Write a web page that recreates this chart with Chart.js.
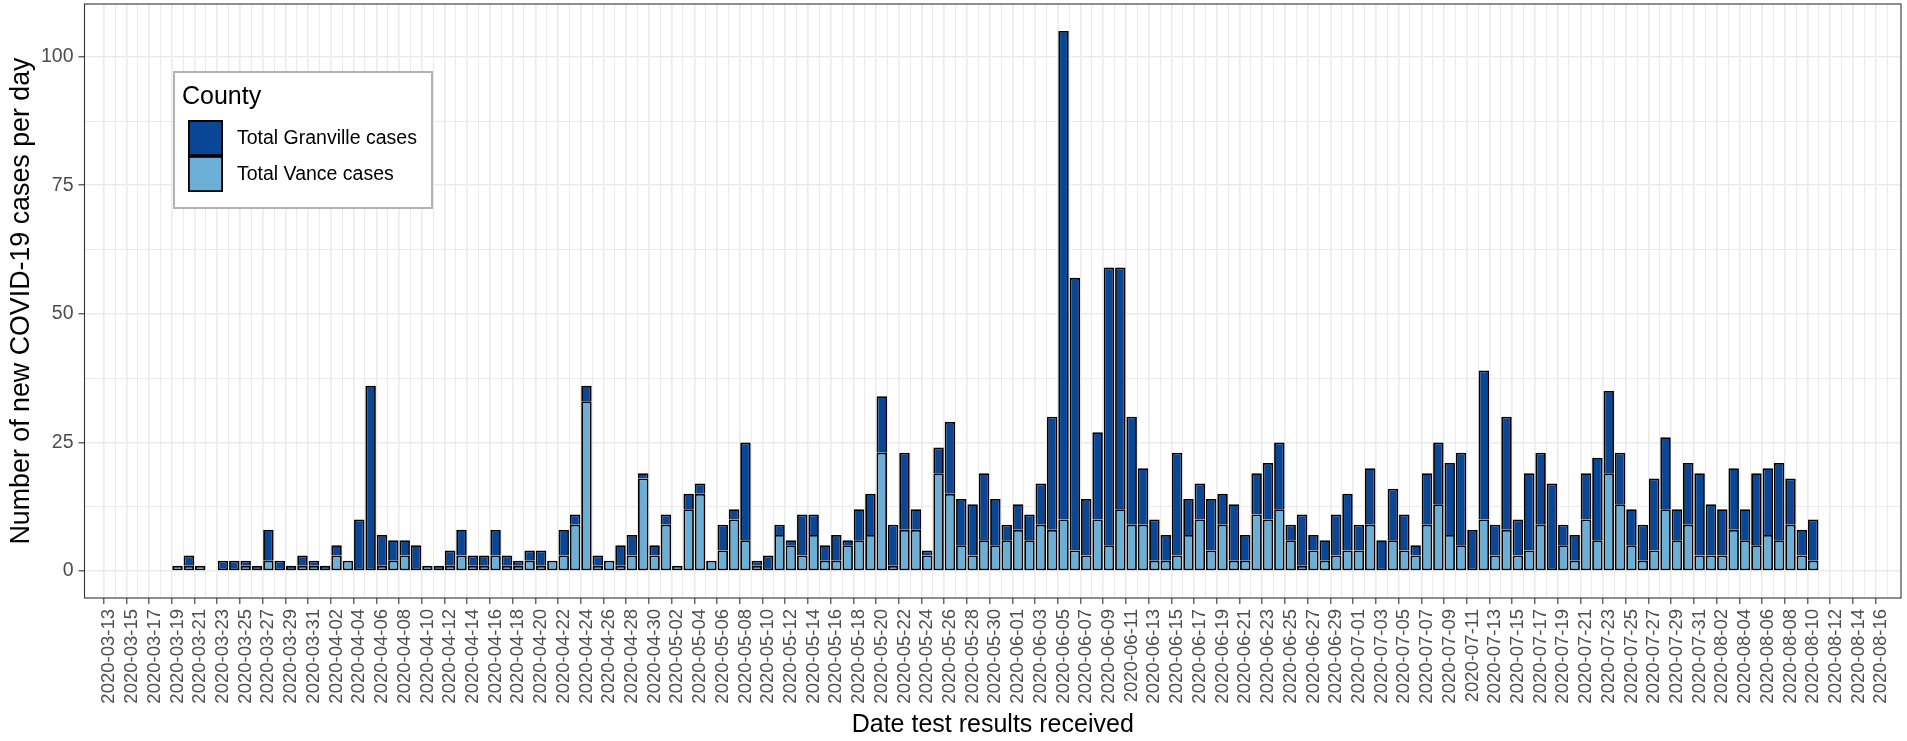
<!DOCTYPE html>
<html>
<head>
<meta charset="utf-8">
<script src="https://cdn.jsdelivr.net/npm/chart.js@4.4.1/dist/chart.umd.min.js"></script>
<style>
  body { margin: 0; background: #fff; }
  canvas { display: block; }
</style>
</head>
<body>
<canvas id="casesChart" width="1907" height="741"></canvas>
<script>
    // x axis runs from axisFirst to axisLast, one label every 2 days
    const axisFirst = '2020-03-13';
    const axisLast = '2020-08-16';
    // first day with a bar; the arrays below are one entry per day from here
    const firstDate = '2020-03-19';
    const yTicks = [0, 25, 50, 75, 100];

    const vance = [
        1, 1, 1, 0, 0, 0, 1, 0, 2, 0,
        0, 1, 1, 0, 3, 2, 0, 0, 1, 2,
        3, 0, 1, 0, 1, 3, 1, 1, 3, 1,
        1, 2, 1, 2, 3, 9, 33, 1, 2, 1,
        3, 18, 3, 9, 1, 12, 15, 2, 4, 10,
        6, 1, 0, 7, 5, 3, 7, 2, 2, 5,
        6, 7, 23, 1, 8, 8, 3, 19, 15, 5,
        3, 6, 5, 6, 8, 6, 9, 8, 10, 4,
        3, 10, 5, 12, 9, 9, 2, 2, 3, 7,
        10, 4, 9, 2, 2, 11, 10, 12, 6, 1,
        4, 2, 3, 4, 4, 9, 0, 6, 4, 3,
        9, 13, 7, 5, 0, 10, 3, 8, 3, 4,
        9, 0, 5, 2, 10, 6, 19, 13, 5, 2,
        4, 12, 6, 9, 3, 3, 3, 8, 6, 5,
        7, 6, 9, 3, 2
    ];
    const granville = [
        0, 2, 0, 0, 2, 2, 1, 1, 6, 2,
        1, 2, 1, 1, 2, 0, 10, 36, 6, 4,
        3, 5, 0, 1, 3, 5, 2, 2, 5, 2,
        1, 2, 3, 0, 5, 2, 3, 2, 0, 4,
        4, 1, 2, 2, 0, 3, 2, 0, 5, 2,
        19, 1, 3, 2, 1, 8, 4, 3, 5, 1,
        6, 8, 11, 8, 15, 4, 1, 5, 14, 9,
        10, 13, 9, 3, 5, 5, 8, 22, 95, 53,
        11, 17, 54, 47, 21, 11, 8, 5, 20, 7,
        7, 10, 6, 11, 5, 8, 11, 13, 3, 10,
        3, 4, 8, 11, 5, 11, 6, 10, 7, 2,
        10, 12, 14, 18, 8, 29, 6, 22, 7, 15,
        14, 17, 4, 5, 9, 16, 16, 10, 7, 7,
        14, 14, 6, 12, 16, 10, 9, 12, 6, 14,
        13, 15, 9, 5, 8
    ];

    const DAY = 86400000;
    const t0 = Date.parse(axisFirst);
    const dayNum = s => Math.round((Date.parse(s) - t0) / DAY);
    const dayLabel = d => new Date(t0 + d * DAY).toISOString().slice(0, 10);
    const start = dayNum(firstDate);
    const lastTick = dayNum(axisLast);

    const FONT = '"Liberation Sans", Arial, Helvetica, sans-serif';

    // ggplot style legend inside the panel
    const insideLegend = {
        id: 'insideLegend',
        afterDraw(chart) {
            const { ctx, chartArea } = chart;
            const x = chartArea.left + 89.5, y = chartArea.top + 68, w = 258, h = 136;
            ctx.save();
            ctx.fillStyle = '#fff';
            ctx.fillRect(x, y, w, h);
            ctx.strokeStyle = '#b3b3b3';
            ctx.lineWidth = 2;
            ctx.strokeRect(x, y, w, h);
            ctx.fillStyle = '#000';
            ctx.textBaseline = 'middle';
            ctx.font = '25px ' + FONT;
            ctx.fillText('County', x + 8, y + 25);
            const items = chart.data.datasets.slice().reverse();
            items.forEach((ds, i) => {
                const ky = y + 48 + i * 36;
                ctx.fillStyle = ds.backgroundColor;
                ctx.fillRect(x + 14, ky, 35, 36);
                ctx.strokeStyle = '#000';
                ctx.lineWidth = 1.8;
                ctx.strokeRect(x + 14.9, ky + 0.9, 33.2, 34.2);
                ctx.fillStyle = '#000';
                ctx.font = '19.5px ' + FONT;
                ctx.fillText(ds.label, x + 63, ky + 19);
            });
            ctx.restore();
        }
    };

    // dark panel border drawn over everything
    const panelBorder = {
        id: 'panelBorder',
        afterDraw(chart) {
            const { ctx, chartArea: a } = chart;
            ctx.save();
            ctx.strokeStyle = '#333333';
            ctx.lineWidth = 1.1;
            ctx.strokeRect(a.left, a.top, a.right - a.left, a.bottom - a.top);
            ctx.restore();
        }
    };

    const noPad = s => {
        s.paddingTop = 0; s.paddingBottom = 0;
        s.paddingLeft = 0; s.paddingRight = 0;
    };

    new Chart(document.getElementById('casesChart'), {
        type: 'bar',
        data: {
            datasets: [{
                label: 'Total Vance cases',
                data: vance.map((v, i) => ({ x: start + i, y: v })),
                backgroundColor: '#6BAED6',
                borderColor: '#000',
                borderWidth: 1.8,
                borderSkipped: false
            }, {
                label: 'Total Granville cases',
                data: granville.map((v, i) => ({ x: start + i, y: v })),
                backgroundColor: '#0A4696',
                borderColor: '#000',
                borderWidth: 1.8,
                borderSkipped: ctx => vance[ctx.dataIndex] > 0 ? 'bottom' : false
            }]
        },
        options: {
            responsive: false,
            animation: false,
            devicePixelRatio: 1,
            layout: { padding: { top: 4, right: 6, left: 0, bottom: 0 } },
            datasets: { bar: { barPercentage: 0.92, categoryPercentage: 1 } },
            plugins: {
                legend: { display: false },
                tooltip: { enabled: false }
            },
            scales: {
                x: {
                    type: 'linear',
                    stacked: true,
                    min: -1.68,
                    max: lastTick + 1.22,
                    afterFit: s => { s.height = 143; noPad(s); },
                    afterBuildTicks: s => {
                        const t = [];
                        for (let d = 0; d <= lastTick; d++) t.push({ value: d });
                        s.ticks = t;
                    },
                    border: { display: false },
                    grid: {
                        color: '#EBEBEB',
                        lineWidth: c => c.tick && c.tick.value % 2 === 0 ? 1.6 : 1.0,
                        tickColor: c => c.tick && c.tick.value % 2 === 0 ? '#333333' : 'rgba(0,0,0,0)',
                        tickLength: 6,
                        tickWidth: 1.1
                    },
                    ticks: {
                        autoSkip: false,
                        minRotation: 90,
                        maxRotation: 90,
                        padding: 5,
                        color: '#4D4D4D',
                        font: { family: FONT, size: 18.5 },
                        callback: v => v % 2 === 0 ? dayLabel(v) : ''
                    },
                    title: {
                        display: true,
                        text: 'Date test results received',
                        color: '#000',
                        font: { family: FONT, size: 25 },
                        padding: { top: 1, bottom: 1 }
                    }
                },
                y: {
                    stacked: true,
                    min: -5.25,
                    max: 110.25,
                    afterFit: s => { s.width = 84.5; noPad(s); },
                    afterBuildTicks: s => {
                        const t = [];
                        yTicks.forEach((v, i) => {
                            t.push({ value: v });
                            if (i < yTicks.length - 1) t.push({ value: v + 12.5 });
                        });
                        s.ticks = t;
                    },
                    border: { display: false },
                    grid: {
                        color: '#EBEBEB',
                        lineWidth: c => c.tick && yTicks.includes(c.tick.value) ? 1.6 : 1.0,
                        tickColor: c => c.tick && yTicks.includes(c.tick.value) ? '#333333' : 'rgba(0,0,0,0)',
                        tickLength: 6,
                        tickWidth: 1.1
                    },
                    ticks: {
                        padding: 5,
                        color: '#4D4D4D',
                        font: { family: FONT, size: 19.5 },
                        callback: v => yTicks.includes(v) ? v : ''
                    },
                    title: {
                        display: true,
                        text: 'Number of new COVID-19 cases per day',
                        color: '#000',
                        font: { family: FONT, size: 26.8 },
                        padding: { top: 6, bottom: 6 }
                    }
                }
            }
        },
        plugins: [insideLegend, panelBorder]
    });
</script>
</body>
</html>
